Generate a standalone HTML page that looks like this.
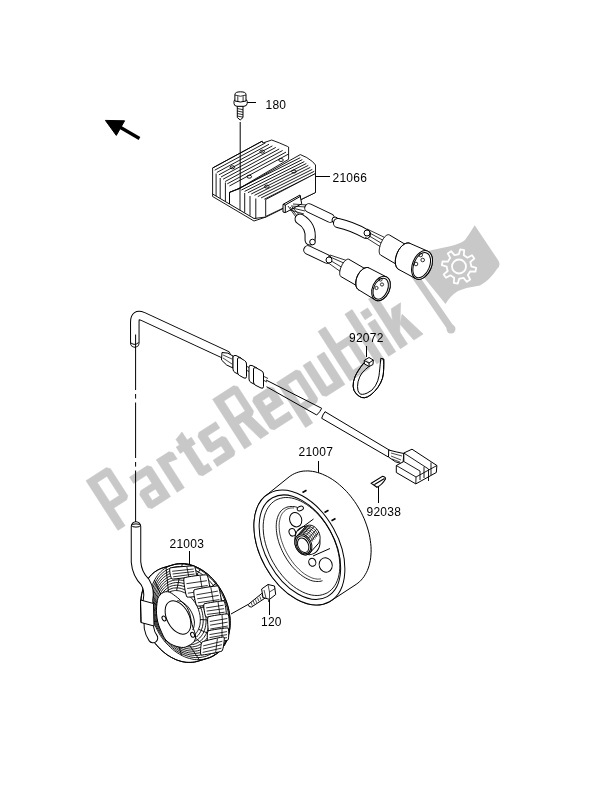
<!DOCTYPE html><html><head><meta charset="utf-8"><style>html,body{margin:0;padding:0;background:#fff;width:600px;height:785px;overflow:hidden}svg{display:block;will-change:transform}</style></head><body>
<svg width="600" height="785" viewBox="0 0 600 785">
<g transform="translate(114.6,532.5) rotate(-32.75)" fill="#c8c8c8" stroke="#c8c8c8" stroke-width="0.6" stroke-linejoin="round"><path d="M4.0 0.0 L4.0 -59.0 L28.0 -59.0 L31.0 -56.0 L31.0 -24.0 L28.0 -21.0 L12.5 -21.0 L12.5 0.0 Z M12.5 -28.5 L12.5 -51.5 L24.0 -51.5 L24.0 -28.5 Z " fill-rule="evenodd"/><path d="M44.5 0.0 L66.5 0.0 L66.5 -35.5 L63.5 -38.5 L42.5 -38.5 L42.5 -31.0 L58.0 -31.0 L58.0 -21.0 L44.5 -21.0 L41.5 -18.0 L41.5 -3.0 Z M49.0 -6.5 L49.0 -14.5 L58.0 -14.5 L58.0 -6.5 Z " fill-rule="evenodd"/><path d="M74.4 0.0 L74.4 -38.5 L89.4 -38.5 L92.4 -35.5 L92.4 -28.0 L82.9 -30.0 L82.9 0.0 Z " fill-rule="evenodd"/><path d="M102.0 -3.0 L105.0 0.0 L116.0 0.0 L116.0 -7.5 L111.0 -7.5 L111.0 -31.0 L116.0 -31.0 L116.0 -38.5 L111.0 -38.5 L111.0 -48.0 L102.0 -45.0 L102.0 -38.5 L98.0 -38.5 L98.0 -31.0 L102.0 -31.0 Z " fill-rule="evenodd"/><path d="M122.0 0.0 L142.0 0.0 L145.0 -3.0 L145.0 -19.8 L142.0 -22.8 L130.5 -22.8 L130.5 -31.0 L145.0 -31.0 L145.0 -38.5 L125.0 -38.5 L122.0 -35.5 L122.0 -18.2 L125.0 -15.2 L136.5 -15.2 L136.5 -7.5 L122.0 -7.5 Z " fill-rule="evenodd"/><path d="M154.5 0.0 L154.5 -59.0 L179.5 -59.0 L182.5 -56.0 L182.5 -27.0 L179.5 -24.0 L163.0 -24.0 L163.0 0.0 Z M163.0 -31.5 L163.0 -51.5 L175.5 -51.5 L175.5 -31.5 Z " fill-rule="evenodd"/><path d="M167.5 -25.0 L177.5 -25.0 L183.5 0.0 L173.5 0.0 Z " fill-rule="evenodd"/><path d="M190.0 0.0 L212.0 0.0 L212.0 -7.5 L195.5 -7.5 L195.5 -17.0 L212.0 -17.0 L212.0 -35.5 L209.0 -38.5 L190.0 -38.5 L187.0 -35.5 L187.0 -3.0 Z M195.5 -24.5 L195.5 -31.0 L203.5 -31.0 L203.5 -24.5 Z " fill-rule="evenodd"/><path d="M217.4 15.0 L225.9 15.0 L225.9 0.0 L240.4 0.0 L243.4 -3.0 L243.4 -35.5 L240.4 -38.5 L217.4 -38.5 Z M225.9 -7.5 L225.9 -31.0 L235.9 -31.0 L235.9 -7.5 Z " fill-rule="evenodd"/><path d="M251.8 0.0 L273.8 0.0 L273.8 -38.5 L265.3 -38.5 L265.3 -7.5 L257.3 -7.5 L257.3 -38.5 L248.8 -38.5 L248.8 -3.0 Z " fill-rule="evenodd"/><path d="M279.9 0.0 L302.9 0.0 L305.9 -3.0 L305.9 -35.5 L302.9 -38.5 L288.4 -38.5 L288.4 -59.0 L279.9 -59.0 Z M288.4 -7.5 L288.4 -31.0 L298.4 -31.0 L298.4 -7.5 Z " fill-rule="evenodd"/><path d="M311.8 0.0 L320.3 0.0 L320.3 -59.0 L311.8 -59.0 Z " fill-rule="evenodd"/><path d="M325.8 0.0 L334.3 0.0 L334.3 -38.5 L325.8 -38.5 Z " fill-rule="evenodd"/><path d="M325.8 -43.5 L334.3 -43.5 L334.3 -52.0 L325.8 -52.0 Z " fill-rule="evenodd"/><path d="M339.8 0.0 L348.3 0.0 L348.3 -59.0 L339.8 -59.0 Z " fill-rule="evenodd"/><path d="M347.3 -13.0 L364.8 -38.5 L353.8 -38.5 L347.3 -26.0 Z " fill-rule="evenodd"/><path d="M352.8 -21.0 L359.8 -28.0 L366.8 0.0 L355.8 0.0 Z " fill-rule="evenodd"/></g>
<line x1="406" y1="263" x2="450" y2="327" stroke="#c8c8c8" stroke-width="7" stroke-linecap="round"/>
<circle cx="451" cy="329" r="4.5" fill="#c8c8c8"/>
<path d="M409 259 Q420 253 430 250.5 Q441 248 450 246.2 Q460 244 465 240 Q470 233 474.7 225.2 L498 260 Q501.5 265 497 269 Q490 280 480 285.5 Q468 287 458 291 Q450 296 445.5 304 Z" fill="#c8c8c8"/>
<path d="M458 254.3 L458.8 254.3 L460.3 249.3 L464.2 250.1 L463.8 255.3 L466.9 257.2 L466.9 257.2 L467.5 257.7 L472 255.3 L474.3 258.6 L470.3 262 L471.2 265.5 L471.2 265.5 L471.2 266.3 L476.2 267.8 L475.4 271.7 L470.2 271.3 L468.3 274.4 L468.3 274.4 L467.8 275 L470.2 279.5 L466.9 281.8 L463.5 277.8 L460 278.7 L460 278.7 L459.2 278.7 L457.7 283.7 L453.8 282.9 L454.2 277.7 L451.1 275.8 L451.1 275.8 L450.5 275.3 L446 277.7 L443.7 274.4 L447.7 271 L446.8 267.5 L446.8 267.5 L446.8 266.7 L441.8 265.2 L442.6 261.3 L447.8 261.7 L449.7 258.6 L449.7 258.6 L450.2 258 L447.8 253.5 L451.1 251.2 L454.5 255.2 L458 254.3 Z" fill="none" stroke="#fff" stroke-width="1.8" stroke-linejoin="round"/>
<circle cx="459" cy="266.5" r="7" fill="none" stroke="#fff" stroke-width="1.8"/>
<g stroke="#000" fill="none" stroke-width="1">
<path d="M105.4 120.4 L124.6 120.8 L116.3 135.4 Z" fill="#000"/>
<line x1="118" y1="126" x2="139.5" y2="138.5" stroke="#000" stroke-width="3.3"/>
<text x="265.5" y="109" font-family="Liberation Sans" font-size="12" letter-spacing="0.25" fill="#000" stroke="none">180</text>
<text x="332.5" y="182" font-family="Liberation Sans" font-size="12" letter-spacing="0.25" fill="#000" stroke="none">21066</text>
<text x="349" y="341.6" font-family="Liberation Sans" font-size="12" letter-spacing="0.25" fill="#000" stroke="none">92072</text>
<text x="298.5" y="456" font-family="Liberation Sans" font-size="12" letter-spacing="0.25" fill="#000" stroke="none">21007</text>
<text x="366.5" y="516" font-family="Liberation Sans" font-size="12" letter-spacing="0.25" fill="#000" stroke="none">92038</text>
<text x="169.5" y="548" font-family="Liberation Sans" font-size="12" letter-spacing="0.25" fill="#000" stroke="none">21003</text>
<text x="261" y="626" font-family="Liberation Sans" font-size="12" letter-spacing="0.25" fill="#000" stroke="none">120</text>
<line x1="246" y1="102.5" x2="256" y2="102.5"/>
<line x1="316" y1="176.5" x2="330" y2="176.5"/>
<line x1="366.5" y1="346" x2="366.5" y2="357"/>
<line x1="318.5" y1="461" x2="318.5" y2="473"/>
<line x1="378.5" y1="486" x2="378.5" y2="503"/>
<line x1="189.5" y1="551" x2="189.5" y2="566"/>
<line x1="269.5" y1="598.5" x2="269.5" y2="615"/>
<path d="M237.3 106 L243 106 L243 117.5 L240.2 120 L237.3 117.5 Z" fill="#fff"/>
<line x1="237.3" y1="108.5" x2="243" y2="109.7" stroke-width="0.8"/>
<line x1="237.3" y1="111" x2="243" y2="112.2" stroke-width="0.8"/>
<line x1="237.3" y1="113.5" x2="243" y2="114.7" stroke-width="0.8"/>
<line x1="237.3" y1="116" x2="243" y2="117.2" stroke-width="0.8"/>
<path d="M234 101.5 Q234 99.5 236 99.5 L245 99.5 Q247.2 99.5 247.2 101.5 L247.2 103.5 Q247 106 244 106.3 L237 106.3 Q234 106 234 103.5 Z" fill="#fff"/>
<path d="M234.9 94.5 Q235 91.8 240.5 91.8 Q246 91.8 246 94.5 L246 101 Q240.5 103 234.9 101 Z" fill="#fff"/>
<path d="M234.9 95 Q240.5 97.5 246 95 M237.8 96.2 L237.8 102 M243.1 96.2 L243.1 102" stroke-width="0.8"/>
<g stroke-width="0.9"><path d="M212.6 193.5 L212.6 196.5 L254 221 L266 217 L266 214 L254 218 L212.6 193.5 Z" fill="#fff"/><path d="M212.6 194 L212.6 168 L262.2 141.1 L262.8 143 L271.7 140 L279.3 142.9 L287.4 146.4 L288.6 147 L288.6 159.3 L240 188 L229.5 192.4 L229.5 204 Z" fill="#fff"/><line x1="212.6" y1="168.0" x2="262.2" y2="141.2"/><line x1="214.7" y1="170.2" x2="265.6" y2="142.8"/><line x1="216.8" y1="172.5" x2="269.0" y2="144.3"/><line x1="218.9" y1="174.8" x2="272.4" y2="145.9"/><line x1="221.0" y1="177.0" x2="275.8" y2="147.4"/><line x1="223.1" y1="179.2" x2="279.2" y2="149.0"/><line x1="225.2" y1="181.5" x2="282.6" y2="150.5"/><line x1="227.3" y1="183.8" x2="286.0" y2="152.1"/><line x1="229.4" y1="186.0" x2="288.6" y2="154.0"/><line x1="216.1" y1="173.5" x2="216.1" y2="196.0"/><line x1="220.2" y1="178" x2="220.2" y2="198.4"/><line x1="225.4" y1="182.5" x2="225.4" y2="201.4"/><path d="M229.5 192.4 L240 188.3 L300.3 154.6 L306.7 157.5 L312.5 161.6 L315.5 165 L315.5 192.5 L266 217 L254 218.5 L229.5 204 Z" fill="#fff"/><line x1="238.0" y1="188.8" x2="300.3" y2="157.7"/><line x1="241.3" y1="190.1" x2="302.3" y2="159.6"/><line x1="244.6" y1="191.4" x2="304.3" y2="161.6"/><line x1="247.9" y1="192.7" x2="306.3" y2="163.5"/><line x1="251.2" y1="194.0" x2="308.3" y2="165.4"/><line x1="254.5" y1="195.3" x2="310.3" y2="167.4"/><line x1="257.8" y1="196.6" x2="312.3" y2="169.4"/><line x1="261.1" y1="197.9" x2="314.3" y2="171.3"/><line x1="264.4" y1="199.2" x2="315.5" y2="173.7"/><path d="M229.5 192.4 L240 188.3 L240 210.5 M229.5 192.4 L229.5 204"/><line x1="244.7" y1="193" x2="244.7" y2="212.6"/><line x1="250" y1="196" x2="250" y2="215.7"/><line x1="255.8" y1="198.5" x2="255.8" y2="219.1"/><path d="M265.7 199.5 L315.5 173.5 L315.5 192.5 L265.7 216.5 Z" fill="#fff"/><ellipse cx="232.4" cy="167.3" rx="2.3" ry="1.5"/><ellipse cx="262.2" cy="151.6" rx="2.3" ry="1.5"/><ellipse cx="249.3" cy="176.7" rx="2.3" ry="1.5"/><ellipse cx="266.8" cy="186.6" rx="2.3" ry="1.5"/><ellipse cx="294" cy="171.5" rx="2.3" ry="1.5"/><ellipse cx="281" cy="160" rx="2.3" ry="1.5"/></g>
<line x1="240.2" y1="122" x2="240.2" y2="188.5"/>
<path d="M283 204.4 L300 195 L301.7 203.8 L285.3 212.6 L283 212 Z M285.3 205 L285.3 212.6 M283 204.4 L285.3 205 L301 196" fill="#fff"/>
<path d="M291 206 L306 207 M292 208 L305 211 M290 210 L304 214 M293 204 L307 205 M288 206 L298 220 M290 207 L301 221 M292 207 L304 220" stroke-width="0.8"/>
<path d="M309 208 L330 218" stroke="#000" stroke-width="9.5" stroke-linecap="round" stroke-linejoin="round" fill="none"/>
<path d="M309 208 L330 218" stroke="#fff" stroke-width="7.5" stroke-linecap="round" stroke-linejoin="round" fill="none"/>
<circle cx="335" cy="220" r="3" fill="#fff"/>
<path d="M338 223 Q352 226 366 234" stroke="#000" stroke-width="10.0" stroke-linecap="round" stroke-linejoin="round" fill="none"/>
<path d="M338 223 Q352 226 366 234" stroke="#fff" stroke-width="8" stroke-linecap="round" stroke-linejoin="round" fill="none"/>
<path d="M300 219 Q312 226 310 240" stroke="#000" stroke-width="11.0" stroke-linecap="round" stroke-linejoin="round" fill="none"/>
<path d="M300 219 Q312 226 310 240" stroke="#fff" stroke-width="9" stroke-linecap="round" stroke-linejoin="round" fill="none"/>
<circle cx="312.5" cy="242" r="2.8" fill="#fff"/>
<path d="M308 250 L327 259" stroke="#000" stroke-width="9.5" stroke-linecap="round" stroke-linejoin="round" fill="none"/>
<path d="M308 250 L327 259" stroke="#fff" stroke-width="7.5" stroke-linecap="round" stroke-linejoin="round" fill="none"/>
<path d="M366 231 L388 243 M366 234 L386 246 M365 237 L384 249 M367 229 L390 240" stroke-width="0.8"/>
<circle cx="367" cy="233" r="3" fill="#fff"/>
<path d="M328 256 L346 264 M328 259 L343 268 M327 262 L341 272 M330 255 L348 261" stroke-width="0.8"/>
<circle cx="329" cy="260" r="3" fill="#fff"/>
<path d="M379.2 250.6 L379.3 249.7 L379.4 248.7 L379.6 247.6 L379.9 246.6 L380.1 245.5 L380.5 244.4 L380.9 243.3 L381.4 242.3 L381.9 241.3 L382.4 240.3 L382.9 239.3 L383.5 238.5 L384.1 237.7 L384.7 236.9 L385.3 236.3 L385.9 235.8 L386.5 235.3 L387.1 235 L387.7 234.8 L388.2 234.7 L388.7 234.7 L389.1 234.8 L389.5 235 L409.1 246.6 L409.6 246.9 L410 247.4 L410.3 248 L410.6 248.7 L410.8 249.5 L411 250.3 L411.1 251.2 L411.1 252.2 L411 253.2 L410.8 254.2 L410.6 255.3 L410.3 256.4 L410 257.5 L409.6 258.6 L409.1 259.6 L408.6 260.6 L408.1 261.6 L407.5 262.5 L406.9 263.4 L406.2 264.2 L405.5 264.9 L404.9 265.5 L404.2 266 L403.5 266.4 L402.8 266.7 L402.2 266.8 L401.5 266.9 L400.9 266.9 L400.4 266.7 L399.9 266.4 L380.5 255 L380.1 254.6 L379.8 254.2 L379.6 253.7 L379.4 253 L379.3 252.3 L379.2 251.5 Z" fill="#fff"/>
<path d="M395.3 261.8 L395.4 260.5 L395.5 259.1 L395.7 257.7 L396.1 256.3 L396.5 254.9 L397 253.5 L397.6 252.1 L398.3 250.8 L399 249.5 L399.8 248.4 L400.7 247.3 L401.6 246.3 L402.5 245.4 L403.5 244.7 L404.4 244 L405.4 243.6 L406.3 243.2 L407.3 243 L408.2 242.9 L409 243 L409.8 243.3 L427.6 251.1 L428.5 251.5 L429.3 252.1 L430.1 252.9 L430.7 253.7 L431.3 254.7 L431.7 255.8 L432.1 257.1 L432.3 258.3 L432.4 259.7 L432.4 261.1 L432.3 262.6 L432.1 264.1 L431.8 265.6 L431.4 267.1 L430.8 268.6 L430.2 270 L429.4 271.4 L428.6 272.7 L427.8 273.9 L426.8 275 L425.8 276.1 L424.8 276.9 L423.7 277.7 L422.6 278.3 L421.5 278.8 L420.4 279.1 L419.4 279.3 L418.3 279.3 L417.3 279.2 L416.4 278.9 L415.5 278.5 L398.4 269.3 L397.7 268.8 L397.1 268.1 L396.6 267.3 L396.1 266.4 L395.8 265.4 L395.5 264.3 L395.4 263.1 Z" fill="#fff"/>
<path d="M399.2 269.7 L398.4 269.3 L397.7 268.8 L397.1 268.1 L396.6 267.3 L396.1 266.4 L395.8 265.4 L395.5 264.3 L395.4 263.1 L395.3 261.8 L395.3 260.5 L395.5 259.1 L395.7 257.7 L396.1 256.3 L396.5 254.9 L397 253.5 L397.6 252.1 L398.3 250.8 L399 249.5 L399.8 248.4 L400.7 247.3 L401.6 246.3 L402.5 245.4 L403.5 244.7 L404.4 244 L405.4 243.5 L406.3 243.2 L407.3 243 L408.2 242.9 L409 243 L409.8 243.3"/>
<ellipse cx="422" cy="265" rx="9.5" ry="15" transform="rotate(22 422 265)" fill="#fff"/>
<ellipse cx="421.7" cy="265.2" rx="7.9" ry="13.2" transform="rotate(22 421.7 265.2)" />
<path d="M339.7 273.4 L339.7 272.6 L339.8 271.8 L339.9 270.9 L340.1 270 L340.3 269.1 L340.6 268.2 L341 267.3 L341.4 266.4 L341.8 265.5 L342.2 264.6 L342.7 263.8 L343.2 263 L343.8 262.2 L344.3 261.6 L344.9 261 L345.4 260.5 L346 260 L346.5 259.7 L347 259.4 L347.6 259.2 L348 259.2 L348.5 259.2 L348.9 259.3 L368.3 270.6 L368.7 270.9 L369.1 271.4 L369.4 271.9 L369.6 272.5 L369.8 273.2 L369.9 273.9 L370 274.7 L370 275.5 L369.9 276.4 L369.7 277.3 L369.5 278.2 L369.3 279.2 L368.9 280.1 L368.6 281 L368.1 281.9 L367.7 282.8 L367.1 283.6 L366.6 284.4 L366 285.1 L365.4 285.8 L364.8 286.3 L364.2 286.8 L363.6 287.2 L362.9 287.5 L362.3 287.8 L361.7 287.9 L361.2 287.9 L360.6 287.8 L360.1 287.7 L359.7 287.4 L341.1 276.7 L340.8 276.5 L340.5 276.1 L340.2 275.8 L340 275.3 L339.8 274.7 L339.7 274.1 Z" fill="#fff"/>
<path d="M355.8 283.1 L355.8 282 L356 280.8 L356.2 279.6 L356.5 278.4 L356.9 277.2 L357.4 276.1 L357.9 274.9 L358.6 273.8 L359.2 272.8 L360 271.8 L360.8 270.9 L361.6 270.1 L362.4 269.4 L363.3 268.8 L364.1 268.3 L365 267.9 L365.8 267.7 L366.7 267.5 L367.5 267.5 L368.2 267.6 L368.9 267.9 L386.2 276.8 L387 277.2 L387.7 277.8 L388.4 278.4 L388.9 279.2 L389.4 280.1 L389.8 281.1 L390.1 282.1 L390.2 283.2 L390.3 284.4 L390.3 285.6 L390.2 286.9 L390 288.2 L389.7 289.4 L389.3 290.7 L388.8 292 L388.2 293.2 L387.5 294.3 L386.8 295.4 L386 296.4 L385.1 297.3 L384.2 298.2 L383.3 298.9 L382.3 299.5 L381.4 300 L380.4 300.4 L379.4 300.6 L378.4 300.7 L377.5 300.7 L376.6 300.5 L375.8 300.2 L375 299.8 L358.4 289.7 L357.8 289.2 L357.3 288.7 L356.8 287.9 L356.4 287.1 L356.1 286.3 L355.9 285.3 L355.8 284.2 Z" fill="#fff"/>
<path d="M359.1 290.1 L358.4 289.7 L357.8 289.3 L357.3 288.7 L356.8 288 L356.4 287.2 L356.1 286.3 L355.9 285.3 L355.8 284.2 L355.8 283.2 L355.8 282 L356 280.8 L356.2 279.6 L356.5 278.4 L356.9 277.2 L357.4 276.1 L358 274.9 L358.6 273.8 L359.3 272.8 L360 271.8 L360.8 270.9 L361.6 270.1 L362.4 269.4 L363.3 268.8 L364.1 268.3 L365 267.9 L365.8 267.7 L366.7 267.5 L367.5 267.5 L368.2 267.6 L368.9 267.9"/>
<ellipse cx="381" cy="288.5" rx="8.5" ry="12.8" transform="rotate(24 381 288.5)" fill="#fff"/>
<ellipse cx="380.7" cy="288.7" rx="6.9" ry="11" transform="rotate(24 380.7 288.7)" />
<circle cx="416" cy="264" r="1.8" stroke-width="0.8"/>
<circle cx="422.7" cy="260" r="1.8" stroke-width="0.8"/>
<circle cx="420.7" cy="255" r="1.8" stroke-width="0.8"/>
<circle cx="376.5" cy="288" r="1.6" stroke-width="0.8"/>
<circle cx="382" cy="284.5" r="1.6" stroke-width="0.8"/>
<circle cx="380.5" cy="279.5" r="1.6" stroke-width="0.8"/>
<path d="M364.2 362.5 Q357.5 370.8 355.2 376.2 Q352.9 381.7 353.1 386.2 Q353.3 390.8 356.2 393.8 Q359.2 396.7 361.7 397.5 Q364.2 398.3 367.5 396.9 Q370.8 395.4 374.6 391.4 Q378.3 387.5 380.6 382.9 Q382.9 378.3 383.3 374.1 Q383.75 370 383.8 364.6 L383.75 359.2 L380.8 358.3 "/>
<path d="M364.2 362.5 Q357.5 370.8 355.2 376.2 Q352.9 381.7 353.1 386.2 Q353.3 390.8 356.2 393.8 Q359.2 396.7 361.7 397.5 Q364.2 398.3 367.5 396.9 Q370.8 395.4 374.6 391.4 Q378.3 387.5 380.6 382.9 Q382.9 378.3 383.3 374.1 Q383.75 370 383.8 364.6 L383.75 359.2"/>
<path d="M380.8 358.3 Q379.6 370.8 379.0 375.8 Q378.3 380.8 375.4 385.8 Q372.5 390.8 367.1 393.1 Q361.7 395.4 359.6 393.5 Q357.5 391.7 357.5 386.7 Q357.5 381.7 359.6 377.1 Q361.7 372.5 365.4 369.4 L369.2 366.25"/>
<path d="M383.75 359.2 L380.8 358.3"/>
<path d="M364.2 360.5 L369 357.5 L373.3 360 L373 364.5 L369.2 366.5 L364.5 364 Z M364.2 360.5 L369 363 L373.3 360 M369 363 L369.2 366.5" fill="#fff"/>
<path d="M134.8 343 L134.8 322 Q134.8 313 143 316.5 L226 355" stroke="#000" stroke-width="9.5" stroke-linecap="round" stroke-linejoin="round" fill="none"/>
<path d="M134.8 343 L134.8 322 Q134.8 313 143 316.5 L226 355" stroke="#fff" stroke-width="7.5" stroke-linecap="round" stroke-linejoin="round" fill="none"/>
<path d="M131 343 Q135 346 138.5 342.5" />
<line x1="135.6" y1="334.5" x2="135.6" y2="524" stroke-dasharray="55.5 4 4.6 3.9"/>
<path d="M222 352.5 Q228 352 233 356 L233 368 Q226 366 221.5 360 Z" fill="#fff"/>
<path d="M223 355 L232 359 M223 358 L232 364" stroke-width="0.7"/>
<path d="M233 357 Q233 355 236 355.5 L241 358 Q243 359 243 362 L243 373 Q243 376 240 375 L235 372.5 Q233 371.5 233 369 Z" fill="#fff"/>
<path d="M237.5 359 Q237.5 357 240 357.8 L244.5 360.5 Q246.5 361.5 246.5 364 L246.5 376.5 Q246.5 379 244 378 L239.5 375.5 Q237.5 374.5 237.5 372 Z" fill="#fff"/>
<path d="M246 366 L250 368 M246 370 L250 372" stroke-width="0.8"/>
<path d="M249 367 Q249 364.5 252 365.5 L257 368 Q259 369 259 372 L259 383 Q259 386 256 385 L251 382.5 Q249 381.5 249 379 Z" fill="#fff"/>
<path d="M253.5 369 Q253.5 367 256 367.8 L261 370.5 Q263.5 371.5 263.5 374 L263.5 386.5 Q263.5 389 261 388 L256 385.5 Q253.5 384.5 253.5 382 Z" fill="#fff"/>
<path d="M263 376 L268 378.5 M263 380 L267 382" stroke-width="0.8"/>
<path d="M266 380 L321.7 408.3 M266.5 386.7 L316.7 415 M321.7 408.3 Q320 412 316.7 415 M325 411.7 L392 451.7 M321.7 418.3 L388.3 457 M325 411.7 Q322.5 415 321.7 418.3"/>
<path d="M388.7 450 Q396 452 403.8 453.5 L403 464 Q395 463 388.5 457 Z" fill="#fff"/>
<path d="M391 453 L402 456 M391 456 L401 460 M392 459 L400 462" stroke-width="0.7"/>
<path d="M396.3 465.5 L403.8 461.5 L403.8 453 L412 449.2 L436.9 465.5 L436.3 472.5 L415.8 483.9 L396.3 472.5 Z" fill="#fff"/>
<path d="M403.8 453 L428.5 469 L428.5 481 M403.8 461.5 L420 471 L420 480 M396.3 465.5 L416 477 L436.9 465.5 M416 477 L415.8 483.9 M431 462.5 L431 475 M424 466.8 L424 478" stroke-width="0.9"/>
<path d="M371.25 483.25 L382.5 476.25 Q386 477 385.5 479 Q382 485 377 487.25 Z M374.5 484.5 L384.5 478.5" fill="#fff" stroke-width="1.1"/>
<path d="M253.9 525.3 L254 522.5 L254.2 519.9 L254.6 517.3 L255 514.7 L255.6 512.3 L256.3 510 L257.1 507.8 L258.1 505.6 L259.1 503.6 L260.3 501.8 L261.5 500 L262.9 498.4 L264.4 496.9 L265.9 495.6 L289.1 476.9 L290.9 475.6 L292.7 474.5 L294.7 473.5 L296.7 472.7 L298.8 472 L300.9 471.5 L303.2 471.1 L305.4 471 L307.8 470.9 L310.1 471.1 L312.6 471.4 L315 471.8 L317.4 472.5 L319.9 473.2 L322.4 474.2 L324.9 475.3 L327.4 476.5 L329.9 477.9 L332.3 479.4 L334.8 481.1 L337.2 482.9 L339.5 484.8 L341.9 486.9 L344.1 489 L346.4 491.3 L348.5 493.7 L350.6 496.2 L352.6 498.8 L354.5 501.4 L356.4 504.2 L358.1 507 L359.8 509.9 L361.4 512.8 L362.8 515.8 L364.2 518.8 L365.4 521.9 L366.5 524.9 L367.5 528 L368.4 531.1 L369.2 534.2 L369.8 537.3 L370.3 540.4 L370.7 543.4 L371 546.4 L371.1 549.3 L371.1 552.2 L370.9 555 L370.7 557.8 L370.3 560.5 L369.7 563.1 L369.1 565.6 L368.3 568 L367.4 570.4 L366.4 572.5 L365.2 574.6 L364 576.6 L362.6 578.4 L361.2 580.1 L359.6 581.7 L357.9 583.1 L356.1 584.4 L331.2 600.7 L329.5 601.7 L327.6 602.6 L325.7 603.4 L323.8 604 L321.7 604.5 L319.6 604.8 L317.4 604.9 L315.2 604.9 L313 604.7 L310.7 604.4 L308.4 603.9 L306 603.3 L303.7 602.5 L301.3 601.5 L298.9 600.5 L296.5 599.2 L294.2 597.8 L291.8 596.3 L289.5 594.7 L287.2 592.9 L284.9 591 L282.6 589 L280.5 586.8 L278.3 584.6 L276.2 582.2 L274.2 579.8 L272.3 577.3 L270.4 574.7 L268.6 572 L266.9 569.2 L265.3 566.4 L263.8 563.5 L262.3 560.6 L261 557.7 L259.8 554.7 L258.7 551.7 L257.7 548.7 L256.8 545.7 L256 542.7 L255.4 539.7 L254.8 536.8 L254.4 533.8 L254.1 530.9 L254 528.1 Z" fill="#fff"/>
<ellipse cx="299.4" cy="547.5" rx="39" ry="62" transform="rotate(-29 299.4 547.5)" fill="#fff"/>
<ellipse cx="299.9" cy="547.2" rx="34.5" ry="56.5" transform="rotate(-29 299.9 547.2)" />
<path d="M329.9 530.7 L331.9 534.4 L333.6 538.2 L335.1 542 L336.5 545.8 L337.6 549.7 L338.5 553.5 L339.2 557.3 L339.6 561 L339.8 564.6 L339.8 568.1 L339.5 571.5 L339 574.7 L338.3 577.8 L337.3 580.6 L336.1 583.3 L334.7 585.7 L333.1 587.9 L331.3 589.8 L329.3 591.5 L327.2 592.9 L324.9 593.9 L322.4 594.7 L319.8 595.3 L317.2 595.5 L314.4 595.4 L311.5 595 L308.6 594.3 L305.6 593.3 L302.6 592 L299.6 590.4 L296.6 588.6 L293.6 586.5 L290.7 584.2 L287.8 581.6 L285.1 578.8 L282.4 575.8 L279.9 572.6 L277.4 569.3 L275.2 565.8 L273.1 562.3 L271.1 558.6 L269.4 554.8 L267.9 551 L266.5 547.2 L265.4 543.3 L264.5 539.5 L263.8 535.7 L263.4 532 L263.2 528.4 L263.2 524.9 L263.5 521.5 L264 518.3 L264.7 515.2 L265.7 512.4 L266.9 509.7 L268.3 507.3 L269.9 505.1 L271.7 503.2 L273.7 501.5 L275.8 500.1 L278.1 499.1 L280.6 498.3 L283.2 497.7 L285.8 497.5 L288.6 497.6 L291.5 498 L294.4 498.7 L297.4 499.7 L300.4 501 L303.4 502.6 L306.4 504.4 L309.4 506.5 L312.3 508.8 L315.2 511.4 L317.9 514.2 L320.6 517.2 L323.1 520.4 L325.6 523.7 L327.8 527.2 L329.9 530.7" stroke-width="0.9"/>
<path d="M322.5 580.7 L321.2 581.1 L319.8 581.4 L318.4 581.5 L316.9 581.5 L315.4 581.4 L313.8 581.2 L312.2 580.8 L310.5 580.3 L308.9 579.6 L307.2 578.8 L305.5 577.9 L303.8 576.9 L302.2 575.8 L300.5 574.5 L298.8 573.2 L297.2 571.7 L295.6 570.2 L294 568.5 L292.4 566.8 L290.9 565 L289.5 563.1 L288.1 561.1 L286.7 559.1 L285.5 557 L284.2 554.9 L283.1 552.7 L282 550.5 L281.1 548.3 L280.2 546.1 L279.3 543.9 L278.6 541.6 L278 539.4 L277.4 537.2 L277 535 L276.7 532.8 L276.4 530.7 L276.3 528.6 L276.2 526.6 L276.3 524.7 L276.4 522.8 L276.7 521 L277 519.3 L277.5 517.6 L278 516.1 L278.7 514.6 L279.4 513.3 L280.2 512 L281.1 510.9 L282.1 509.9 L283.2 509 L284.4 508.3 L285.6 507.7 L286.9 507.2 L288.2 506.8 L289.6 506.6 L291.1 506.5 L292.6 506.5 L294.1 506.6 L295.7 506.9 L297.3 507.4" stroke-width="0.9"/>
<path d="M320.9 578.9 L319.7 579 L318.5 579.1 L317.2 579.1 L315.9 578.9 L314.5 578.6 L313.1 578.3 L311.7 577.8 L310.3 577.2 L308.9 576.5 L307.4 575.7 L306 574.9 L304.5 573.9 L303 572.8 L301.6 571.7 L300.2 570.4 L298.8 569.1 L297.4 567.7 L296 566.2 L294.6 564.7 L293.3 563 L292.1 561.4 L290.8 559.6 L289.6 557.9 L288.5 556 L287.4 554.2 L286.4 552.3 L285.4 550.4 L284.5 548.4 L283.6 546.5 L282.9 544.5 L282.2 542.5 L281.5 540.6 L280.9 538.6 L280.5 536.7 L280 534.8 L279.7 532.9 L279.4 531 L279.3 529.2 L279.2 527.4 L279.1 525.7 L279.2 524 L279.3 522.4 L279.6 520.8 L279.9 519.4 L280.2 517.9 L280.7 516.6 L281.2 515.4 L281.8 514.2 L282.5 513.1 L283.3 512.2 L284.1 511.3 L285 510.5 L285.9 509.8 L286.9 509.2 L288 508.7 L289.1 508.4 L290.3 508.1 L291.5 508 L292.7 507.9 L294 508" stroke-width="0.7"/>
<ellipse cx="295.7" cy="519.7" rx="6" ry="7.3" transform="rotate(-20 295.7 519.7)" />
<ellipse cx="325.7" cy="565" rx="6.5" ry="7.3" transform="rotate(-20 325.7 565)" />
<ellipse cx="292.3" cy="532.3" rx="3.2" ry="3.8" transform="rotate(-20 292.3 532.3)" />
<ellipse cx="312.3" cy="562.3" rx="3.5" ry="4" transform="rotate(-20 312.3 562.3)" />
<ellipse cx="300.3" cy="508.5" rx="3.2" ry="2.2" transform="rotate(-20 300.3 508.5)" />
<ellipse cx="307.5" cy="540.5" rx="12" ry="14.5" transform="rotate(-25 307.5 540.5)" fill="#fff"/>
<path d="M294.8 542.5 L294.9 541.5 L295 540.5 L295.2 539.5 L295.4 538.6 L295.8 537.7 L296.3 536.9 L296.8 536.2 L304.9 527.2 L305.5 526.6 L306.2 526.1 L306.9 525.7 L307.7 525.4 L308.5 525.2 L309.4 525.1 L310.3 525.2 L311.2 525.3 L312.1 525.6 L313 526 L313.8 526.4 L314.7 527 L315.5 527.7 L316.3 528.4 L317 529.3 L317.6 530.2 L318.2 531.1 L318.8 532.1 L319.2 533.2 L319.5 534.2 L319.8 535.3 L320 536.4 L320.1 537.5 L320.1 538.5 L319.9 539.5 L319.7 540.5 L319.4 541.4 L319.1 542.3 L318.6 543.1 L318.1 543.8 L310 552.8 L309.4 553.4 L308.7 553.9 L308 554.3 L307.2 554.6 L306.4 554.8 L305.5 554.9 L304.6 554.8 L303.7 554.7 L302.8 554.4 L301.9 554 L301.1 553.6 L300.2 553 L299.4 552.3 L298.6 551.6 L297.9 550.7 L297.3 549.8 L296.7 548.9 L296.1 547.9 L295.7 546.8 L295.4 545.8 L295.1 544.7 L294.9 543.6 Z" fill="#fff"/>
<path d="M299 533.9 L299.6 533.5 L300.3 533.2 L301 532.9 L301.8 532.7 L302.6 532.6 L303.4 532.7 L304.2 532.8 L305 533 L305.8 533.3 L306.6 533.7 L307.4 534.2 L308.2 534.7 L308.9 535.4 L309.6 536.1 L310.3 536.8 L310.9 537.7 L311.4 538.5 L311.9 539.4 L312.3 540.4 L312.7 541.4" stroke-width="0.8"/><path d="M300.3 532.4 L301 532 L301.7 531.7 L302.4 531.4 L303.1 531.2 L303.9 531.1 L304.7 531.2 L305.5 531.3 L306.4 531.5 L307.2 531.8 L308 532.2 L308.8 532.7 L309.6 533.2 L310.3 533.9 L311 534.6 L311.6 535.3 L312.2 536.2 L312.8 537 L313.3 537.9 L313.7 538.9 L314 539.9" stroke-width="0.8"/><path d="M301.7 530.9 L302.3 530.5 L303 530.2 L303.7 529.9 L304.5 529.7 L305.3 529.6 L306.1 529.7 L306.9 529.8 L307.7 530 L308.5 530.3 L309.3 530.7 L310.1 531.2 L310.9 531.7 L311.6 532.4 L312.3 533.1 L313 533.8 L313.6 534.7 L314.1 535.5 L314.6 536.4 L315 537.4 L315.4 538.4" stroke-width="0.8"/><path d="M303 529.4 L303.7 529 L304.4 528.7 L305.1 528.4 L305.8 528.2 L306.6 528.1 L307.4 528.2 L308.2 528.3 L309.1 528.5 L309.9 528.8 L310.7 529.2 L311.5 529.7 L312.3 530.2 L313 530.9 L313.7 531.6 L314.3 532.3 L314.9 533.2 L315.5 534 L316 534.9 L316.4 535.9 L316.7 536.9" stroke-width="0.8"/><path d="M304.4 527.9 L305 527.5 L305.7 527.2 L306.4 526.9 L307.2 526.7 L308 526.6 L308.8 526.7 L309.6 526.8 L310.4 527 L311.2 527.3 L312 527.7 L312.8 528.2 L313.6 528.7 L314.3 529.4 L315 530.1 L315.7 530.8 L316.3 531.7 L316.8 532.5 L317.3 533.4 L317.7 534.4 L318.1 535.4" stroke-width="0.8"/><line x1="300.2" y1="534.3" x2="308.3" y2="525.3" stroke-width="0.8"/><line x1="303.1" y1="534.3" x2="311.2" y2="525.3" stroke-width="0.8"/><line x1="306.0" y1="535.6" x2="314.1" y2="526.6" stroke-width="0.8"/><line x1="308.7" y1="538.0" x2="316.8" y2="529.0" stroke-width="0.8"/><line x1="310.7" y1="541.1" x2="318.8" y2="532.1" stroke-width="0.8"/>
<ellipse cx="303.4" cy="544.5" rx="8" ry="10.8" transform="rotate(-25 303.4 544.5)" fill="#fff"/>
<ellipse cx="303.4" cy="544.8" rx="6.8" ry="9.4" transform="rotate(-25 303.4 544.8)" />
<ellipse cx="303.2" cy="545.2" rx="5.2" ry="7.6" transform="rotate(-25 303.2 545.2)" />
<path d="M298 530.5 L313.5 519 M313 556 L330 548.5"/>
<path d="M324.5 512.5 L328.5 510.3 M331.5 520.8 L335.5 518.5 M302.5 492.5 L306.5 490.3" stroke-width="1.6"/>
<clipPath id="stclip"><path d="M140.9 602.9 L140.9 600.5 L141.1 598.1 L141.4 595.8 L141.8 593.5 L142.4 591.3 L143 589.1 L143.7 587 L144.5 585 L145.4 583.1 L146.4 581.2 L147.6 579.5 L148.8 577.8 L150 576.2 L151.4 574.8 L152.9 573.4 L154.4 572.2 L156 571.1 L157.6 570.1 L159.4 569.2 L161.2 568.4 L163 567.8 L173 564.8 L174.9 564.3 L176.8 563.9 L178.8 563.7 L180.8 563.6 L182.8 563.6 L184.8 563.7 L186.9 564 L189 564.4 L191 565 L193.1 565.6 L195.2 566.4 L197.2 567.4 L199.3 568.4 L201.3 569.6 L203.3 570.8 L205.2 572.2 L207.1 573.7 L209 575.3 L210.8 577 L212.5 578.8 L214.2 580.7 L215.9 582.6 L217.4 584.7 L218.9 586.8 L220.3 589 L221.6 591.2 L222.9 593.5 L224 595.9 L225.1 598.3 L226.1 600.7 L226.9 603.1 L227.7 605.6 L228.4 608.1 L228.9 610.6 L229.4 613.1 L229.7 615.6 L230 618.1 L230.1 620.6 L230.1 623.1 L230.1 625.5 L229.9 627.9 L229.6 630.2 L229.2 632.5 L228.6 634.7 L228 636.9 L227.3 639 L226.5 641 L225.6 642.9 L224.6 644.8 L223.4 646.5 L222.2 648.2 L221 649.8 L219.6 651.2 L218.1 652.6 L216.6 653.8 L215 654.9 L213.4 655.9 L211.6 656.8 L209.8 657.6 L208 658.2 L198 661.2 L196.1 661.7 L194.2 662.1 L192.2 662.3 L190.2 662.4 L188.2 662.4 L186.2 662.3 L184.1 662 L182 661.6 L180 661 L177.9 660.4 L175.8 659.6 L173.8 658.6 L171.7 657.6 L169.7 656.4 L167.7 655.2 L165.8 653.8 L163.9 652.3 L162 650.7 L160.2 649 L158.5 647.2 L156.8 645.3 L155.1 643.4 L153.6 641.3 L152.1 639.2 L150.7 637 L149.4 634.8 L148.1 632.5 L147 630.1 L145.9 627.7 L144.9 625.3 L144.1 622.9 L143.3 620.4 L142.6 617.9 L142.1 615.4 L141.6 612.9 L141.3 610.4 L141 607.9 L140.9 605.4 Z"/></clipPath>
<path d="M140.9 602.9 L140.9 600.5 L141.1 598.1 L141.4 595.8 L141.8 593.5 L142.4 591.3 L143 589.1 L143.7 587 L144.5 585 L145.4 583.1 L146.4 581.2 L147.6 579.5 L148.8 577.8 L150 576.2 L151.4 574.8 L152.9 573.4 L154.4 572.2 L156 571.1 L157.6 570.1 L159.4 569.2 L161.2 568.4 L163 567.8 L173 564.8 L174.9 564.3 L176.8 563.9 L178.8 563.7 L180.8 563.6 L182.8 563.6 L184.8 563.7 L186.9 564 L189 564.4 L191 565 L193.1 565.6 L195.2 566.4 L197.2 567.4 L199.3 568.4 L201.3 569.6 L203.3 570.8 L205.2 572.2 L207.1 573.7 L209 575.3 L210.8 577 L212.5 578.8 L214.2 580.7 L215.9 582.6 L217.4 584.7 L218.9 586.8 L220.3 589 L221.6 591.2 L222.9 593.5 L224 595.9 L225.1 598.3 L226.1 600.7 L226.9 603.1 L227.7 605.6 L228.4 608.1 L228.9 610.6 L229.4 613.1 L229.7 615.6 L230 618.1 L230.1 620.6 L230.1 623.1 L230.1 625.5 L229.9 627.9 L229.6 630.2 L229.2 632.5 L228.6 634.7 L228 636.9 L227.3 639 L226.5 641 L225.6 642.9 L224.6 644.8 L223.4 646.5 L222.2 648.2 L221 649.8 L219.6 651.2 L218.1 652.6 L216.6 653.8 L215 654.9 L213.4 655.9 L211.6 656.8 L209.8 657.6 L208 658.2 L198 661.2 L196.1 661.7 L194.2 662.1 L192.2 662.3 L190.2 662.4 L188.2 662.4 L186.2 662.3 L184.1 662 L182 661.6 L180 661 L177.9 660.4 L175.8 659.6 L173.8 658.6 L171.7 657.6 L169.7 656.4 L167.7 655.2 L165.8 653.8 L163.9 652.3 L162 650.7 L160.2 649 L158.5 647.2 L156.8 645.3 L155.1 643.4 L153.6 641.3 L152.1 639.2 L150.7 637 L149.4 634.8 L148.1 632.5 L147 630.1 L145.9 627.7 L144.9 625.3 L144.1 622.9 L143.3 620.4 L142.6 617.9 L142.1 615.4 L141.6 612.9 L141.3 610.4 L141 607.9 L140.9 605.4 Z" fill="#fff"/>
<g clip-path="url(#stclip)"><path d="M197.3 606.7 L197.9 608.1 L198.5 609.6 L198.9 611.1 L199.4 612.6 L199.7 614.1 L200 615.6 L200.2 617.1 L200.3 618.6 L200.3 620 L200.3 621.5 L200.2 622.9 L200 624.3 L199.7 625.7 L199.3 627 L198.9 628.2 L198.4 629.4 L197.8 630.6 L197.2 631.7 L196.5 632.7 L195.7 633.6 L194.9 634.5 L194 635.3 L193.1 636 L192.1 636.6 L191.1 637.2 L190 637.6 L188.9 638 L187.7 638.2 L186.6 638.4 L185.4 638.5 L184.2 638.4 L182.9 638.3 L181.7 638.1 L180.4 637.8 L179.2 637.4 L178 636.9 L176.7 636.4 L175.5 635.7 L174.3 635 L173.1 634.1 L172 633.2 L170.9 632.3 L169.8 631.2 L168.8 630.1 L167.8 628.9 L166.9 627.7 L166 626.4 L165.2 625.1 L164.4 623.7 L163.7 622.3 L163.1 620.9 L162.5 619.4 L162.1 617.9 L161.6 616.4 L161.3 614.9 L161 613.4 L160.8 611.9 L160.7 610.4 L160.7 609 L160.7 607.5 L160.8 606.1 L161 604.7 L161.3 603.3 L161.7 602 L162.1 600.8 L162.6 599.6 L163.2 598.4 L163.8 597.3 L164.5 596.3 L165.3 595.4 L166.1 594.5 L167 593.7 L167.9 593 L168.9 592.4 L169.9 591.8 L171 591.4 L172.1 591 L173.3 590.8 L174.4 590.6 L175.6 590.5 L176.8 590.6 L178.1 590.7 L179.3 590.9 L180.6 591.2 L181.8 591.6 L183 592.1 L184.3 592.6 L185.5 593.3 L186.7 594 L187.9 594.9 L189 595.8 L190.1 596.7 L191.2 597.8 L192.2 598.9 L193.2 600.1 L194.1 601.3 L195 602.6 L195.8 603.9 L196.6 605.3 L197.3 606.7" stroke-width="0.9"/><path d="M199.8 605.6 L200.5 607.2 L201.2 608.8 L201.7 610.5 L202.2 612.1 L202.5 613.8 L202.8 615.4 L203 617.1 L203.2 618.7 L203.2 620.3 L203.2 621.9 L203 623.5 L202.8 625 L202.5 626.5 L202.1 628 L201.6 629.3 L201.1 630.7 L200.5 631.9 L199.8 633.1 L199 634.2 L198.2 635.3 L197.2 636.2 L196.3 637.1 L195.2 637.9 L194.2 638.6 L193 639.2 L191.8 639.6 L190.6 640 L189.4 640.3 L188.1 640.5 L186.8 640.6 L185.4 640.6 L184.1 640.4 L182.7 640.2 L181.3 639.9 L180 639.4 L178.6 638.9 L177.2 638.3 L175.9 637.6 L174.6 636.7 L173.3 635.8 L172.1 634.8 L170.8 633.8 L169.7 632.6 L168.5 631.4 L167.5 630.1 L166.4 628.8 L165.5 627.3 L164.6 625.9 L163.7 624.4 L163 622.8 L162.3 621.2 L161.6 619.6 L161.1 618 L160.6 616.4 L160.3 614.7 L160 613.1 L159.8 611.4 L159.6 609.8 L159.6 608.1 L159.6 606.5 L159.8 605 L160 603.4 L160.3 601.9 L160.7 600.5 L161.2 599.1 L161.7 597.8 L162.3 596.5 L163 595.3 L163.8 594.2 L164.6 593.2 L165.6 592.2 L166.5 591.4 L167.6 590.6 L168.6 589.9 L169.8 589.3 L171 588.8 L172.2 588.4 L173.4 588.1 L174.7 588 L176 587.9 L177.4 587.9 L178.7 588 L180.1 588.2 L181.5 588.6 L182.8 589 L184.2 589.5 L185.6 590.2 L186.9 590.9 L188.2 591.7 L189.5 592.6 L190.7 593.6 L192 594.7 L193.1 595.8 L194.3 597.1 L195.3 598.3 L196.4 599.7 L197.3 601.1 L198.2 602.6 L199.1 604.1 L199.8 605.6" stroke-width="0.9"/><path d="M202.4 604.6 L203.2 606.3 L203.9 608.1 L204.4 609.8 L204.9 611.6 L205.4 613.4 L205.7 615.2 L205.9 617 L206 618.8 L206.1 620.6 L206 622.4 L205.9 624.1 L205.6 625.7 L205.3 627.4 L204.9 628.9 L204.4 630.4 L203.8 631.9 L203.1 633.3 L202.3 634.6 L201.5 635.8 L200.6 636.9 L199.6 638 L198.5 638.9 L197.4 639.8 L196.2 640.5 L195 641.1 L193.7 641.7 L192.4 642.1 L191 642.4 L189.6 642.6 L188.1 642.7 L186.7 642.7 L185.2 642.6 L183.7 642.3 L182.2 641.9 L180.7 641.5 L179.2 640.9 L177.8 640.2 L176.3 639.4 L174.9 638.5 L173.5 637.5 L172.1 636.5 L170.8 635.3 L169.5 634 L168.3 632.7 L167.1 631.3 L166 629.8 L164.9 628.3 L163.9 626.7 L163 625 L162.2 623.3 L161.4 621.6 L160.7 619.9 L160.2 618.1 L159.7 616.3 L159.2 614.5 L158.9 612.7 L158.7 610.9 L158.6 609.1 L158.5 607.3 L158.6 605.6 L158.7 603.9 L159 602.2 L159.3 600.6 L159.7 599 L160.2 597.5 L160.8 596 L161.5 594.7 L162.3 593.4 L163.1 592.1 L164 591 L165 590 L166.1 589 L167.2 588.2 L168.4 587.4 L169.6 586.8 L170.9 586.2 L172.2 585.8 L173.6 585.5 L175 585.3 L176.5 585.2 L177.9 585.2 L179.4 585.4 L180.9 585.6 L182.4 586 L183.9 586.4 L185.4 587 L186.8 587.7 L188.3 588.5 L189.7 589.4 L191.1 590.4 L192.5 591.5 L193.8 592.6 L195.1 593.9 L196.3 595.2 L197.5 596.6 L198.6 598.1 L199.7 599.6 L200.7 601.2 L201.6 602.9 L202.4 604.6" stroke-width="0.9"/><path d="M205 603.5 L205.8 605.4 L206.5 607.3 L207.2 609.2 L207.7 611.2 L208.2 613.1 L208.5 615.1 L208.8 617 L208.9 619 L209 620.9 L208.9 622.8 L208.7 624.6 L208.5 626.4 L208.1 628.2 L207.7 629.9 L207.1 631.5 L206.5 633.1 L205.7 634.6 L204.9 636 L204 637.3 L203 638.6 L201.9 639.7 L200.8 640.7 L199.6 641.6 L198.3 642.4 L196.9 643.1 L195.5 643.7 L194.1 644.2 L192.6 644.5 L191.1 644.7 L189.5 644.8 L187.9 644.8 L186.3 644.7 L184.7 644.4 L183.1 644 L181.5 643.5 L179.9 642.9 L178.3 642.1 L176.7 641.3 L175.2 640.3 L173.6 639.2 L172.2 638.1 L170.7 636.8 L169.3 635.4 L168 634 L166.7 632.5 L165.5 630.9 L164.4 629.2 L163.3 627.5 L162.3 625.7 L161.4 623.9 L160.6 622 L159.9 620.1 L159.2 618.2 L158.7 616.2 L158.2 614.3 L157.9 612.3 L157.6 610.3 L157.5 608.4 L157.4 606.5 L157.5 604.6 L157.7 602.7 L157.9 600.9 L158.3 599.2 L158.7 597.5 L159.3 595.8 L159.9 594.3 L160.7 592.8 L161.5 591.4 L162.4 590 L163.4 588.8 L164.5 587.7 L165.6 586.7 L166.8 585.7 L168.1 584.9 L169.5 584.2 L170.9 583.7 L172.3 583.2 L173.8 582.9 L175.3 582.6 L176.9 582.5 L178.5 582.6 L180.1 582.7 L181.7 583 L183.3 583.4 L184.9 583.9 L186.5 584.5 L188.1 585.3 L189.7 586.1 L191.2 587.1 L192.8 588.2 L194.2 589.3 L195.7 590.6 L197.1 592 L198.4 593.4 L199.7 594.9 L200.9 596.5 L202 598.2 L203.1 599.9 L204.1 601.7 L205 603.5" stroke-width="0.9"/><path d="M207.6 602.5 L208.5 604.5 L209.2 606.5 L209.9 608.6 L210.5 610.7 L211 612.8 L211.4 614.9 L211.6 617 L211.8 619.1 L211.8 621.2 L211.8 623.2 L211.6 625.2 L211.3 627.2 L211 629.1 L210.5 630.9 L209.9 632.6 L209.2 634.3 L208.4 635.9 L207.5 637.5 L206.5 638.9 L205.4 640.2 L204.3 641.4 L203 642.5 L201.7 643.5 L200.3 644.4 L198.9 645.1 L197.4 645.8 L195.8 646.3 L194.2 646.6 L192.6 646.9 L190.9 647 L189.2 646.9 L187.5 646.8 L185.8 646.5 L184 646.1 L182.3 645.5 L180.5 644.8 L178.8 644 L177.1 643.1 L175.4 642.1 L173.8 640.9 L172.2 639.7 L170.7 638.3 L169.2 636.8 L167.7 635.3 L166.3 633.6 L165 631.9 L163.8 630.1 L162.7 628.3 L161.6 626.3 L160.6 624.4 L159.7 622.4 L159 620.3 L158.3 618.2 L157.7 616.1 L157.2 614 L156.8 611.9 L156.6 609.8 L156.4 607.7 L156.4 605.7 L156.4 603.6 L156.6 601.6 L156.9 599.7 L157.2 597.8 L157.7 596 L158.3 594.2 L159 592.5 L159.8 590.9 L160.7 589.4 L161.7 588 L162.8 586.6 L163.9 585.4 L165.2 584.3 L166.5 583.3 L167.9 582.4 L169.3 581.7 L170.8 581.1 L172.4 580.6 L174 580.2 L175.6 580 L177.3 579.9 L179 579.9 L180.7 580.1 L182.4 580.3 L184.2 580.8 L185.9 581.3 L187.7 582 L189.4 582.8 L191.1 583.7 L192.8 584.8 L194.4 585.9 L196 587.2 L197.5 588.5 L199 590 L200.5 591.6 L201.9 593.2 L203.2 594.9 L204.4 596.7 L205.5 598.6 L206.6 600.5 L207.6 602.5" stroke-width="0.9"/><path d="M210.2 601.4 L211.1 603.6 L211.9 605.8 L212.7 608 L213.3 610.2 L213.8 612.5 L214.2 614.8 L214.5 617 L214.7 619.2 L214.7 621.5 L214.7 623.6 L214.5 625.8 L214.2 627.9 L213.8 629.9 L213.2 631.9 L212.6 633.8 L211.9 635.6 L211 637.3 L210 638.9 L209 640.4 L207.8 641.8 L206.6 643.2 L205.3 644.3 L203.9 645.4 L202.4 646.3 L200.8 647.1 L199.2 647.8 L197.6 648.3 L195.9 648.7 L194.1 649 L192.3 649.1 L190.5 649.1 L188.6 648.9 L186.8 648.6 L184.9 648.1 L183 647.5 L181.2 646.8 L179.3 646 L177.5 645 L175.7 643.9 L174 642.6 L172.3 641.3 L170.6 639.8 L169 638.2 L167.5 636.6 L166 634.8 L164.6 633 L163.3 631 L162 629 L160.9 627 L159.8 624.9 L158.9 622.7 L158.1 620.5 L157.3 618.3 L156.7 616.1 L156.2 613.8 L155.8 611.5 L155.5 609.3 L155.3 607.1 L155.3 604.8 L155.3 602.7 L155.5 600.5 L155.8 598.4 L156.2 596.4 L156.8 594.4 L157.4 592.5 L158.1 590.7 L159 589 L160 587.4 L161 585.9 L162.2 584.5 L163.4 583.1 L164.7 582 L166.1 580.9 L167.6 580 L169.2 579.2 L170.8 578.5 L172.4 578 L174.1 577.6 L175.9 577.3 L177.7 577.2 L179.5 577.2 L181.4 577.4 L183.2 577.7 L185.1 578.2 L187 578.8 L188.8 579.5 L190.7 580.3 L192.5 581.3 L194.3 582.4 L196 583.7 L197.7 585 L199.4 586.5 L201 588.1 L202.5 589.7 L204 591.5 L205.4 593.3 L206.7 595.3 L208 597.3 L209.1 599.3 L210.2 601.4" stroke-width="0.9"/><path d="M212.7 600.4 L213.7 602.7 L214.6 605 L215.4 607.4 L216.1 609.8 L216.6 612.2 L217.1 614.6 L217.4 617 L217.6 619.4 L217.6 621.7 L217.5 624.1 L217.3 626.3 L217 628.6 L216.6 630.7 L216 632.8 L215.3 634.9 L214.5 636.8 L213.6 638.6 L212.6 640.4 L211.5 642 L210.3 643.5 L208.9 644.9 L207.5 646.1 L206 647.3 L204.5 648.3 L202.8 649.1 L201.1 649.8 L199.3 650.4 L197.5 650.8 L195.6 651.1 L193.7 651.2 L191.7 651.2 L189.8 651 L187.8 650.7 L185.8 650.2 L183.8 649.6 L181.8 648.8 L179.9 647.9 L177.9 646.8 L176 645.6 L174.1 644.3 L172.3 642.9 L170.5 641.3 L168.8 639.6 L167.2 637.9 L165.6 636 L164.1 634 L162.7 632 L161.4 629.8 L160.2 627.6 L159.1 625.4 L158.1 623.1 L157.2 620.7 L156.4 618.4 L155.7 616 L155.2 613.6 L154.7 611.2 L154.4 608.8 L154.2 606.4 L154.2 604 L154.3 601.7 L154.5 599.4 L154.8 597.2 L155.2 595 L155.8 592.9 L156.5 590.9 L157.3 589 L158.2 587.1 L159.2 585.4 L160.3 583.8 L161.5 582.3 L162.9 580.9 L164.3 579.6 L165.8 578.5 L167.3 577.5 L169 576.6 L170.7 575.9 L172.5 575.3 L174.3 574.9 L176.2 574.7 L178.1 574.5 L180.1 574.6 L182 574.8 L184 575.1 L186 575.6 L188 576.2 L190 577 L191.9 577.9 L193.9 578.9 L195.8 580.1 L197.7 581.5 L199.5 582.9 L201.3 584.5 L203 586.1 L204.6 587.9 L206.2 589.8 L207.7 591.7 L209.1 593.8 L210.4 595.9 L211.6 598.1 L212.7 600.4" stroke-width="0.9"/><path d="M215.3 599.3 L216.4 601.8 L217.3 604.3 L218.2 606.8 L218.9 609.3 L219.5 611.9 L219.9 614.4 L220.2 617 L220.4 619.5 L220.5 622 L220.4 624.5 L220.2 626.9 L219.9 629.3 L219.4 631.6 L218.8 633.8 L218.1 636 L217.2 638 L216.3 640 L215.2 641.8 L214 643.5 L212.7 645.1 L211.3 646.6 L209.8 648 L208.2 649.2 L206.5 650.2 L204.8 651.1 L202.9 651.9 L201 652.5 L199.1 652.9 L197.1 653.2 L195.1 653.4 L193 653.3 L190.9 653.1 L188.8 652.8 L186.7 652.3 L184.6 651.6 L182.5 650.8 L180.4 649.8 L178.3 648.7 L176.3 647.4 L174.3 646 L172.4 644.5 L170.5 642.8 L168.7 641 L166.9 639.1 L165.2 637.2 L163.7 635.1 L162.2 632.9 L160.8 630.6 L159.5 628.3 L158.3 625.9 L157.2 623.5 L156.3 621 L155.4 618.4 L154.7 615.9 L154.1 613.3 L153.7 610.8 L153.4 608.2 L153.2 605.7 L153.1 603.2 L153.2 600.7 L153.4 598.3 L153.7 595.9 L154.2 593.6 L154.8 591.4 L155.5 589.3 L156.4 587.2 L157.3 585.3 L158.4 583.4 L159.6 581.7 L160.9 580.1 L162.3 578.6 L163.8 577.3 L165.4 576.1 L167.1 575 L168.8 574.1 L170.7 573.3 L172.6 572.7 L174.5 572.3 L176.5 572 L178.5 571.9 L180.6 571.9 L182.7 572.1 L184.8 572.5 L186.9 573 L189 573.6 L191.1 574.5 L193.2 575.4 L195.3 576.6 L197.3 577.8 L199.3 579.2 L201.2 580.7 L203.1 582.4 L204.9 584.2 L206.7 586.1 L208.4 588.1 L209.9 590.2 L211.4 592.3 L212.8 594.6 L214.1 596.9 L215.3 599.3" stroke-width="0.9"/><path d="M217.9 598.3 L219 600.9 L220 603.5 L220.9 606.2 L221.7 608.9 L222.3 611.6 L222.8 614.3 L223.1 617 L223.3 619.7 L223.4 622.3 L223.3 624.9 L223.1 627.5 L222.7 630 L222.2 632.4 L221.6 634.8 L220.8 637.1 L219.9 639.2 L218.9 641.3 L217.8 643.3 L216.5 645.1 L215.1 646.8 L213.6 648.3 L212 649.8 L210.4 651 L208.6 652.2 L206.7 653.1 L204.8 653.9 L202.8 654.6 L200.7 655 L198.6 655.3 L196.5 655.5 L194.3 655.4 L192.1 655.2 L189.8 654.9 L187.6 654.3 L185.3 653.6 L183.1 652.7 L180.9 651.7 L178.7 650.5 L176.6 649.2 L174.5 647.7 L172.4 646.1 L170.4 644.3 L168.5 642.4 L166.6 640.4 L164.9 638.3 L163.2 636.1 L161.6 633.8 L160.1 631.4 L158.8 628.9 L157.5 626.4 L156.4 623.8 L155.4 621.2 L154.5 618.5 L153.7 615.8 L153.1 613.1 L152.6 610.4 L152.3 607.7 L152.1 605 L152 602.4 L152.1 599.8 L152.3 597.2 L152.7 594.7 L153.2 592.2 L153.8 589.9 L154.6 587.6 L155.5 585.4 L156.5 583.4 L157.6 581.4 L158.9 579.6 L160.3 577.9 L161.8 576.3 L163.4 574.9 L165 573.6 L166.8 572.5 L168.7 571.6 L170.6 570.8 L172.6 570.1 L174.7 569.6 L176.8 569.3 L178.9 569.2 L181.1 569.2 L183.3 569.4 L185.6 569.8 L187.8 570.4 L190.1 571.1 L192.3 571.9 L194.5 573 L196.7 574.2 L198.8 575.5 L200.9 577 L203 578.6 L205 580.4 L206.9 582.2 L208.8 584.2 L210.5 586.4 L212.2 588.6 L213.8 590.9 L215.3 593.3 L216.6 595.7 L217.9 598.3" stroke-width="0.9"/><path d="M220.5 597.2 L221.7 599.9 L222.7 602.7 L223.7 605.5 L224.4 608.4 L225.1 611.2 L225.6 614.1 L226 617 L226.2 619.8 L226.3 622.6 L226.2 625.4 L225.9 628.1 L225.6 630.7 L225 633.3 L224.4 635.8 L223.6 638.2 L222.6 640.5 L221.5 642.6 L220.3 644.7 L219 646.6 L217.5 648.4 L216 650.1 L214.3 651.6 L212.5 652.9 L210.6 654.1 L208.7 655.1 L206.6 656 L204.5 656.6 L202.3 657.1 L200.1 657.5 L197.8 657.6 L195.5 657.6 L193.2 657.3 L190.8 657 L188.5 656.4 L186.1 655.6 L183.8 654.7 L181.4 653.6 L179.1 652.4 L176.8 651 L174.6 649.4 L172.5 647.7 L170.4 645.8 L168.3 643.8 L166.4 641.7 L164.5 639.5 L162.7 637.2 L161.1 634.7 L159.5 632.2 L158.1 629.6 L156.7 626.9 L155.5 624.2 L154.5 621.4 L153.5 618.6 L152.8 615.8 L152.1 612.9 L151.6 610 L151.2 607.2 L151 604.3 L150.9 601.5 L151 598.8 L151.3 596.1 L151.6 593.4 L152.2 590.9 L152.8 588.4 L153.6 586 L154.6 583.7 L155.7 581.5 L156.9 579.4 L158.2 577.5 L159.7 575.7 L161.2 574.1 L162.9 572.6 L164.7 571.2 L166.6 570 L168.5 569 L170.6 568.2 L172.7 567.5 L174.9 567 L177.1 566.7 L179.4 566.5 L181.7 566.6 L184 566.8 L186.4 567.2 L188.7 567.8 L191.1 568.5 L193.4 569.4 L195.8 570.5 L198.1 571.8 L200.4 573.2 L202.6 574.7 L204.7 576.5 L206.8 578.3 L208.9 580.3 L210.8 582.4 L212.7 584.6 L214.5 587 L216.1 589.4 L217.7 591.9 L219.1 594.5 L220.5 597.2" stroke-width="0.9"/><path d="M223 596.2 L224.3 599 L225.4 602 L226.4 604.9 L227.2 607.9 L227.9 610.9 L228.5 613.9 L228.8 616.9 L229.1 619.9 L229.1 622.9 L229 625.8 L228.8 628.6 L228.4 631.4 L227.9 634.1 L227.2 636.7 L226.3 639.3 L225.3 641.7 L224.2 644 L222.9 646.1 L221.5 648.2 L220 650.1 L218.3 651.8 L216.5 653.4 L214.7 654.8 L212.7 656 L210.6 657.1 L208.5 658 L206.3 658.7 L204 659.2 L201.6 659.6 L199.2 659.7 L196.8 659.7 L194.3 659.5 L191.9 659 L189.4 658.4 L186.9 657.7 L184.4 656.7 L181.9 655.5 L179.5 654.2 L177.1 652.7 L174.8 651.1 L172.5 649.3 L170.3 647.3 L168.2 645.2 L166.1 643 L164.1 640.7 L162.3 638.2 L160.5 635.7 L158.9 633 L157.4 630.3 L156 627.4 L154.7 624.6 L153.6 621.6 L152.6 618.7 L151.8 615.7 L151.1 612.7 L150.5 609.7 L150.2 606.7 L149.9 603.7 L149.9 600.7 L150 597.8 L150.2 595 L150.6 592.2 L151.1 589.5 L151.8 586.9 L152.7 584.3 L153.7 581.9 L154.8 579.6 L156.1 577.5 L157.5 575.4 L159 573.5 L160.7 571.8 L162.5 570.2 L164.3 568.8 L166.3 567.6 L168.4 566.5 L170.5 565.6 L172.7 564.9 L175 564.4 L177.4 564 L179.8 563.9 L182.2 563.9 L184.7 564.1 L187.1 564.6 L189.6 565.2 L192.1 565.9 L194.6 566.9 L197.1 568.1 L199.5 569.4 L201.9 570.9 L204.2 572.5 L206.5 574.3 L208.7 576.3 L210.8 578.4 L212.9 580.6 L214.9 582.9 L216.7 585.4 L218.5 587.9 L220.1 590.6 L221.6 593.3 L223 596.2" stroke-width="0.9"/><path d="M198.1 608.7 L226.5 599.6" stroke-width="0.9"/><path d="M200.3 619.5 L230.9 621.6" stroke-width="0.9"/><path d="M198.5 629.2 L227.2 641.6" stroke-width="0.9"/><path d="M193 636 L216.1 655.4" stroke-width="0.9"/><path d="M185 638.5 L199.7 660.4" stroke-width="0.9"/><path d="M176.1 636 L181.6 655.5" stroke-width="0.9"/><path d="M168.1 629.3 L165.2 641.6" stroke-width="0.9"/><path d="M162.6 619.5 L153.9 621.7" stroke-width="0.9"/><path d="M160.7 608.7 L150.1 599.7" stroke-width="0.9"/><path d="M162.8 599.1 L154.4 580.1" stroke-width="0.9"/><path d="M168.5 592.6 L166 566.8" stroke-width="0.9"/><path d="M176.6 590.5 L182.6 562.6" stroke-width="0.9"/><path d="M185.6 593.3 L200.8 568.3" stroke-width="0.9"/><path d="M193.4 600.4 L216.9 582.7" stroke-width="0.9"/></g>
<path d="M140.9 602.9 L140.9 600.5 L141.1 598.1 L141.4 595.8 L141.8 593.5 L142.4 591.3 L143 589.1 L143.7 587 L144.5 585 L145.4 583.1 L146.4 581.2 L147.6 579.5 L148.8 577.8 L150 576.2 L151.4 574.8 L152.9 573.4 L154.4 572.2 L156 571.1 L157.6 570.1 L159.4 569.2 L161.2 568.4 L163 567.8 L173 564.8 L174.9 564.3 L176.8 563.9 L178.8 563.7 L180.8 563.6 L182.8 563.6 L184.8 563.7 L186.9 564 L189 564.4 L191 565 L193.1 565.6 L195.2 566.4 L197.2 567.4 L199.3 568.4 L201.3 569.6 L203.3 570.8 L205.2 572.2 L207.1 573.7 L209 575.3 L210.8 577 L212.5 578.8 L214.2 580.7 L215.9 582.6 L217.4 584.7 L218.9 586.8 L220.3 589 L221.6 591.2 L222.9 593.5 L224 595.9 L225.1 598.3 L226.1 600.7 L226.9 603.1 L227.7 605.6 L228.4 608.1 L228.9 610.6 L229.4 613.1 L229.7 615.6 L230 618.1 L230.1 620.6 L230.1 623.1 L230.1 625.5 L229.9 627.9 L229.6 630.2 L229.2 632.5 L228.6 634.7 L228 636.9 L227.3 639 L226.5 641 L225.6 642.9 L224.6 644.8 L223.4 646.5 L222.2 648.2 L221 649.8 L219.6 651.2 L218.1 652.6 L216.6 653.8 L215 654.9 L213.4 655.9 L211.6 656.8 L209.8 657.6 L208 658.2 L198 661.2 L196.1 661.7 L194.2 662.1 L192.2 662.3 L190.2 662.4 L188.2 662.4 L186.2 662.3 L184.1 662 L182 661.6 L180 661 L177.9 660.4 L175.8 659.6 L173.8 658.6 L171.7 657.6 L169.7 656.4 L167.7 655.2 L165.8 653.8 L163.9 652.3 L162 650.7 L160.2 649 L158.5 647.2 L156.8 645.3 L155.1 643.4 L153.6 641.3 L152.1 639.2 L150.7 637 L149.4 634.8 L148.1 632.5 L147 630.1 L145.9 627.7 L144.9 625.3 L144.1 622.9 L143.3 620.4 L142.6 617.9 L142.1 615.4 L141.6 612.9 L141.3 610.4 L141 607.9 L140.9 605.4 Z"/>
<path d="M170 568 C171.1 567.4 192.7 565.6 194 566 C195.3 566.4 197.1 575.4 196 576 C194.9 576.6 173.3 579.4 172 579 C170.7 578.6 168.9 568.6 170 568 Z" fill="#fff" stroke-width="1"/>
<line x1="172.1" y1="571.3" x2="193.6" y2="569.0" stroke-width="0.8"/>
<line x1="172.6" y1="574.0" x2="194.1" y2="571.5" stroke-width="0.8"/>
<line x1="173.1" y1="576.8" x2="194.6" y2="574.0" stroke-width="0.8"/>
<line x1="186.8" y1="566.6" x2="188.8" y2="576.9" stroke-width="0.8"/>
<path d="M184 578 C185 576.9 205.7 574.2 207 575 C208.3 575.8 211 592.9 210 594 C209 595.1 188.3 597.8 187 597 C185.7 596.2 183 579.1 184 578 Z" fill="#fff" stroke-width="1"/>
<line x1="186.4" y1="583.7" x2="206.9" y2="580.7" stroke-width="0.8"/>
<line x1="187.2" y1="588.5" x2="207.7" y2="585.5" stroke-width="0.8"/>
<line x1="187.9" y1="593.2" x2="208.4" y2="590.2" stroke-width="0.8"/>
<line x1="200.1" y1="575.9" x2="203.1" y2="594.9" stroke-width="0.8"/>
<path d="M194 590 C195.1 589 216.7 585.4 218 586 C219.3 586.6 222.1 602 221 603 C219.9 604 198.3 606.6 197 606 C195.7 605.4 192.9 591 194 590 Z" fill="#fff" stroke-width="1"/>
<line x1="196.4" y1="594.8" x2="217.9" y2="591.1" stroke-width="0.8"/>
<line x1="197.2" y1="598.8" x2="218.7" y2="595.4" stroke-width="0.8"/>
<line x1="197.9" y1="602.8" x2="219.4" y2="599.6" stroke-width="0.8"/>
<line x1="210.8" y1="587.2" x2="213.8" y2="603.9" stroke-width="0.8"/>
<path d="M204 604 C204.9 603.2 222.9 600.5 224 601 C225.1 601.5 226.9 614.2 226 615 C225.1 615.8 207.1 617.5 206 617 C204.9 616.5 203.1 604.8 204 604 Z" fill="#fff" stroke-width="1"/>
<line x1="206.1" y1="607.9" x2="223.6" y2="605.2" stroke-width="0.8"/>
<line x1="206.6" y1="611.1" x2="224.1" y2="608.7" stroke-width="0.8"/>
<line x1="207.1" y1="614.4" x2="224.6" y2="612.2" stroke-width="0.8"/>
<line x1="218.0" y1="601.9" x2="220.0" y2="615.6" stroke-width="0.8"/>
<path d="M208 617 C208.9 616.1 226.9 613.4 228 614 C229.1 614.6 229.9 628.1 229 629 C228.1 629.9 210.1 632.6 209 632 C207.9 631.4 207.1 617.9 208 617 Z" fill="#fff" stroke-width="1"/>
<line x1="209.8" y1="621.5" x2="227.3" y2="618.5" stroke-width="0.8"/>
<line x1="210.1" y1="625.2" x2="227.6" y2="622.2" stroke-width="0.8"/>
<line x1="210.3" y1="629.0" x2="227.8" y2="626.0" stroke-width="0.8"/>
<line x1="222.0" y1="614.9" x2="223.0" y2="629.9" stroke-width="0.8"/>
<path d="M208 631 C209 630.2 227 627.5 228 628 C229 628.5 229 639.2 228 640 C227 640.8 209 643.5 208 643 C207 642.5 207 631.8 208 631 Z" fill="#fff" stroke-width="1"/>
<line x1="209.5" y1="634.6" x2="227.0" y2="631.6" stroke-width="0.8"/>
<line x1="209.5" y1="637.6" x2="227.0" y2="634.6" stroke-width="0.8"/>
<line x1="209.5" y1="640.6" x2="227.0" y2="637.6" stroke-width="0.8"/>
<line x1="222.0" y1="628.9" x2="222.0" y2="640.9" stroke-width="0.8"/>
<path d="M202 642 C203.2 641.1 223 636.5 224 637 C225 637.5 223.2 650.1 222 651 C220.8 651.9 202 655.5 201 655 C200 654.5 200.8 642.9 202 642 Z" fill="#fff" stroke-width="1"/>
<line x1="203.2" y1="645.9" x2="222.4" y2="641.2" stroke-width="0.8"/>
<line x1="202.9" y1="649.1" x2="221.9" y2="644.7" stroke-width="0.8"/>
<line x1="202.7" y1="652.4" x2="221.4" y2="648.2" stroke-width="0.8"/>
<line x1="217.4" y1="638.5" x2="215.7" y2="652.2" stroke-width="0.8"/>
<path d="M157 603.3 C157.6 598.7 157.9 597.3 160 595 C162.1 592.7 164.4 591.4 167.5 591.7 C170.6 592 172.8 594.2 175.7 596.3 C178.6 598.4 179.4 599.2 182 602 C184.6 604.8 186.5 605.8 188.5 610.3 C190.5 614.8 190.6 618.7 192 624.3 C193.4 629.9 196.3 634 195.5 638.3 C194.7 642.6 191.3 644.3 188 646 C184.7 647.7 183 647.8 179 647 C175 646.2 171.5 644.9 168 642 C164.5 639.1 163.9 637.3 161.7 632.5 C159.5 627.7 157.9 623.8 157 618 C156.1 612.2 156.4 607.9 157 603.3 Z" fill="#fff"/>
<ellipse cx="178" cy="617.5" rx="11" ry="18" transform="rotate(-28 178 617.5)" />
<path d="M177.1 600.8 L177.8 600.8 L178.5 600.8 L179.2 601 L180 601.2 L180.8 601.4 L181.5 601.7 L182.3 602.1 L183.1 602.6 L183.9 603.1 L184.6 603.6 L185.4 604.3 L186.2 604.9 L186.9 605.7 L187.6 606.4 L188.3 607.2 L189 608.1 L189.6 609 L190.2 609.9 L190.8 610.8 L191.3 611.8 L191.8 612.8 L192.3 613.8 L192.7 614.8 L193.1 615.9 L193.4 616.9 L193.7 617.9 L193.9 618.9 L194.1 619.9 L194.3 620.9 L194.4 621.9 L194.4 622.9 L194.4 623.8 L194.3 624.7 L194.2 625.6 L194 626.4 L193.8 627.2 L193.6 627.9 L193.3 628.6 L192.9 629.2 L192.5 629.8"/>
<ellipse cx="164" cy="618.5" rx="1.8" ry="2.6" transform="rotate(-28 164 618.5)" />
<ellipse cx="192.6" cy="634.8" rx="1.8" ry="2.6" transform="rotate(-28 192.6 634.8)" />
<path d="M136 526.5 L136 562 Q137 574 145 582 Q150 590 148 600 L149 628 Q150 634 153 638" stroke="#000" stroke-width="10.5" stroke-linecap="round" stroke-linejoin="round" fill="none"/>
<path d="M136 526.5 L136 562 Q137 574 145 582 Q150 590 148 600 L149 628 Q150 634 153 638" stroke="#fff" stroke-width="8.5" stroke-linecap="round" stroke-linejoin="round" fill="none"/>
<ellipse cx="136" cy="525.5" rx="4.3" ry="1.6" transform="rotate(0 136 525.5)" />
<path d="M140.5 600 L153.5 603.5 L154 626 L141 622.5 Z M140.5 600 L141 622.5" fill="#fff"/>
<line x1="231" y1="614" x2="248" y2="604.5"/>
<path d="M248.3 604.4 Q248.5 607.5 251.5 607 L266 597.5 L263 592.5 Z" fill="#fff"/>
<line x1="251.0" y1="602.3" x2="252.3" y2="605.7" stroke-width="0.7"/>
<line x1="253.2" y1="600.8" x2="254.5" y2="604.2" stroke-width="0.7"/>
<line x1="255.4" y1="599.4" x2="256.7" y2="602.8" stroke-width="0.7"/>
<line x1="257.6" y1="597.9" x2="258.9" y2="601.3" stroke-width="0.7"/>
<line x1="259.8" y1="596.5" x2="261.1" y2="599.9" stroke-width="0.7"/>
<line x1="262.0" y1="595.0" x2="263.3" y2="598.4" stroke-width="0.7"/>
<line x1="264.2" y1="593.6" x2="265.5" y2="597.0" stroke-width="0.7"/>
<path d="M261.6 589 L268 584.5 L274.5 586 L275.7 594.5 L269.5 599.4 L263 597.5 Z" fill="#fff"/>
<path d="M268 584.5 L269.5 592 L269.5 599.4 M269.5 592 L275.2 588.5 M264 590 L266 598" stroke-width="0.7"/>
<line x1="268.5" y1="600" x2="268.5" y2="602" stroke-width="0.7"/>
</g>
</svg></body></html>
